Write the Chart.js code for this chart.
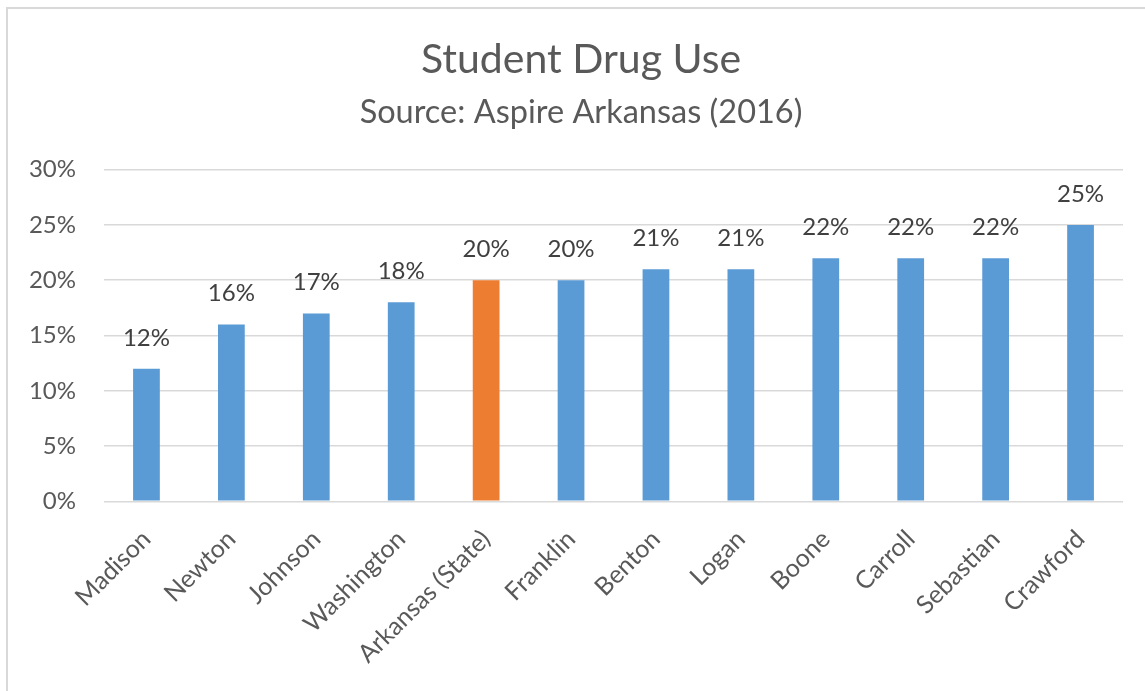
<!DOCTYPE html>
<html>
<head>
<meta charset="utf-8">
<script src="https://cdn.jsdelivr.net/npm/chart.js@4"></script>
<style>
    body { margin: 0; background: #ffffff; overflow: hidden; }
    #moldura { position: absolute; left: 6px; top: 7px; width: 1200px; height: 750px; border: 2px solid #d9d9d9; }
    #grafico { position: absolute; left: 0; top: 0; }
</style>
</head>
<body>
<div id="moldura"></div>
<canvas id="grafico" width="1145" height="691"></canvas>
<script>
// dados
const condados = ['Madison', 'Newton', 'Johnson', 'Washington', 'Arkansas (State)', 'Franklin', 'Benton', 'Logan', 'Boone', 'Carroll', 'Sebastian', 'Crawford'];
const valores = [12, 16, 17, 18, 20, 20, 21, 21, 22, 22, 22, 25];
const marcasY = [0, 5, 10, 15, 20, 25, 30];

const azul = '#5b9bd5';
const laranja = '#ed7d31';
const cores = condados.map(c => c === 'Arkansas (State)' ? laranja : azul);

// rótulos em cima das barras
const rotulos = {
    id: 'rotulos',
    afterDatasetsDraw(chart) {
        const ctx = chart.ctx;
        const meta = chart.getDatasetMeta(0);
        ctx.save();
        ctx.fillStyle = '#404040';
        ctx.font = '24px Lato';
        ctx.textAlign = 'center';
        ctx.textBaseline = 'alphabetic';
        meta.data.forEach((barra, i) => {
            ctx.fillText(valores[i] + '%', barra.x, barra.y - 23);
        });
        ctx.restore();
    }
};

function desenhar() {
    new Chart(document.getElementById('grafico'), {
        type: 'bar',
        data: {
            labels: condados,
            datasets: [{
                data: valores,
                backgroundColor: cores,
                borderWidth: 0,
                barPercentage: 0.315,
                categoryPercentage: 1
            }]
        },
        options: {
            responsive: false,
            animation: false,
            layout: {
                autoPadding: false,
                padding: { left: 39, right: 22, top: 0, bottom: 7 }
            },
            plugins: {
                legend: { display: false },
                tooltip: { enabled: false },
                title: {
                    display: true,
                    text: 'Student Drug Use',
                    color: '#595959',
                    font: { family: 'Lato', size: 41, weight: 'normal' },
                    padding: { top: 35.5, bottom: 0 }
                },
                subtitle: {
                    display: true,
                    text: 'Source: Aspire Arkansas (2016)',
                    color: '#595959',
                    font: { family: 'Lato', size: 32.5, weight: 'normal' },
                    padding: { top: 8, bottom: 38 }
                }
            },
            scales: {
                x: {
                    grid: { display: false },
                    border: { display: false },
                    // os rótulos inclinados não devem empurrar a área do gráfico
                    afterFit: (eixo) => {
                        eixo.paddingLeft = 0;
                        eixo.paddingRight = 0;
                    },
                    ticks: {
                        color: '#595959',
                        font: { family: 'Lato', size: 25 },
                        minRotation: 45,
                        maxRotation: 45,
                        autoSkip: false,
                        padding: 15
                    }
                },
                y: {
                    min: 0,
                    max: 30,
                    afterBuildTicks: (eixo) => {
                        eixo.ticks = marcasY.map(v => ({ value: v }));
                    },
                    // largura fixa do eixo, os rótulos podem passar para a margem
                    afterFit: (eixo) => {
                        eixo.width = 65;
                        eixo._computeLabelArea = () => undefined;
                    },
                    grid: { color: '#d9d9d9', lineWidth: 1.5, drawTicks: false },
                    border: { display: false },
                    ticks: {
                        color: '#595959',
                        font: { family: 'Lato', size: 24 },
                        padding: 28,
                        callback: v => v + '%'
                    }
                }
            }
        },
        plugins: [rotulos]
    });
}

document.fonts.load('24px Lato').then(desenhar, desenhar);
</script>
</body>
</html>
